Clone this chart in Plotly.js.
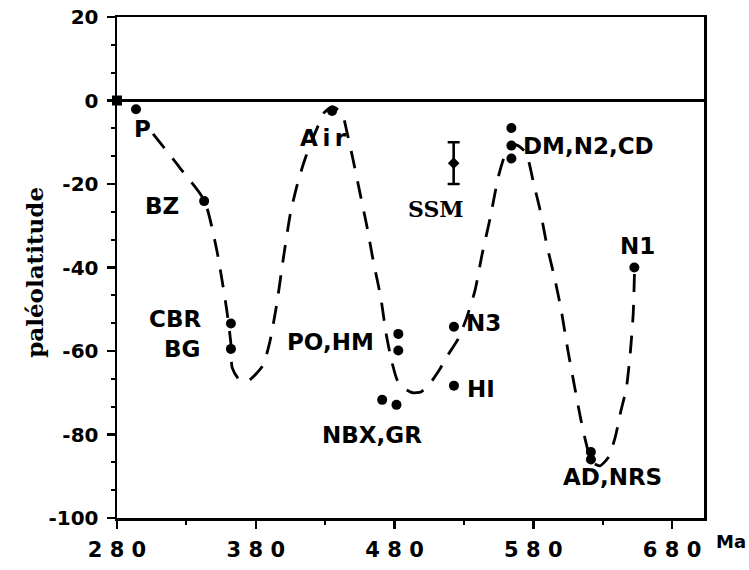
<!DOCTYPE html>
<html>
<head>
<meta charset="utf-8">
<script src="https://cdn.plot.ly/plotly-3.0.1.min.js"></script>
<style>html,body{margin:0;padding:0;background:#fff;}#chart{width:749px;height:570px;}</style>
</head>
<body>
<div id="chart"></div>
<script>
// Data points (Ma, paleolatitude)
const pointAges = [293.7, 342.8, 362.1, 362.1, 435, 564.2, 564.2, 564.2, 652.8, 482.7, 482.7, 522.8, 522.8, 471.1, 481.4, 621.5, 621.5];
const pointLats = [-2.1, -24.1, -53.4, -59.5, -2.5, -6.6, -10.8, -13.9, -40, -55.9, -59.9, -54.2, -68.3, -71.7, -72.9, -84.2, -86.0];

// Origin square
const originAge = [280];
const originLat = [0];

// SSM with error bar
const ssmAge = [522.6];
const ssmLat = [-15];
const ssmErr = [5];

// Dashed curve
const curveAges = [306,325,343,352,359,362,363,368,375,385,390,395,400,405,410,415,420,425,429,435,442,446,450,455,460,465,470,474,478,482,487,493,499,505,512,518,526,532,538,543,549,555,560,565,570,575,580,585,590,595,600,605,610,614,618,622,628,634,639,643,647,650,652,653];
const curveLats = [-8,-16,-24,-36,-50,-58,-64,-66.8,-67,-63.5,-58,-49,-37.5,-27,-20,-14.5,-10,-6,-3,-1.5,-3,-8,-14,-22,-30,-39,-47,-56,-62.5,-67,-69,-70,-69.8,-68,-64.7,-61.2,-57,-52,-45.5,-37,-28,-18,-12.7,-10.5,-11,-12.7,-19.5,-26.4,-35,-42,-50,-60,-69,-76,-82,-86.5,-87.5,-85.5,-80.7,-74.5,-69,-60,-51,-40];

// Point labels
const labelTexts = ["P","BZ","CBR","BG","A\u2009i\u2009r","DM,N2,CD","N1","PO,HM","N3","HI","NBX,GR","AD,NRS"];
const labelAges = [298.5, 312.5, 322, 326.5, 428.7, 620, 655, 433.5, 544.3, 542, 463.4, 636.7];
const labelLats = [-6.9, -25.3, -52.3, -59.4, -9.1, -11, -34.8, -57.8, -53.2, -69, -80.2, -90.2];

// Axis ticks
const xTickVals = [280, 380, 480, 580, 680];
const xTickText = ["2\u00a08\u00a00", "3\u00a08\u00a00", "4\u00a08\u00a00", "5\u00a08\u00a00", "6\u00a08\u00a00"];
const yTickVals = [20, 0, -20, -40, -60, -80, -100];
const yTickText = ["20", "0", "-20", "-40", "-60", "-80", "-100"];

const sans = "DejaVu Sans, Arial, sans-serif";
const serif = "DejaVu Serif, Times New Roman, serif";

const traces = [
  {
    x: curveAges, y: curveLats, mode: 'lines', type: 'scatter',
    line: {color: '#000', width: 2.8, dash: '18px,13px', shape: 'spline', smoothing: 0.6},
    hoverinfo: 'skip'
  },
  {
    x: pointAges, y: pointLats, mode: 'markers', type: 'scatter',
    marker: {color: '#000', size: 10, symbol: 'circle'}
  },
  {
    x: originAge, y: originLat, mode: 'markers', type: 'scatter',
    marker: {color: '#000', size: 10, symbol: 'square'}, cliponaxis: false
  },
  {
    x: ssmAge, y: ssmLat, mode: 'markers', type: 'scatter',
    marker: {color: '#000', size: 9, symbol: 'diamond'},
    error_y: {type: 'data', array: ssmErr, visible: true, color: '#000', thickness: 2.6, width: 6}
  }
];

const L = 117, R = 45, T = 17, B = 52, W = 749, H = 570;
const pw = W - L - R, ph = H - T - B;

const annotations = labelTexts.map((t, i) => ({
  x: labelAges[i], y: labelLats[i], xref: 'x', yref: 'y', text: t, showarrow: false,
  xanchor: 'center', yanchor: 'middle',
  font: {family: sans, size: 23, color: '#000', weight: 700}
}));
annotations.push({
  x: ssmAge[0] - 13, y: -26, xref: 'x', yref: 'y', text: 'SSM', showarrow: false,
  xanchor: 'center', yanchor: 'middle',
  font: {family: serif, size: 22, color: '#000', weight: 700}
});
annotations.push({
  x: -0.141, y: 0.49, xref: 'paper', yref: 'paper', text: 'paléolatitude', showarrow: false,
  textangle: -90, xanchor: 'center', yanchor: 'middle',
  font: {family: serif, size: 23, color: '#000', weight: 700}
});
annotations.push({
  x: (731 - L) / pw, y: (H - B - 541) / ph, xref: 'paper', yref: 'paper', text: 'Ma', showarrow: false,
  xanchor: 'center', yanchor: 'middle',
  font: {family: sans, size: 18, color: '#000', weight: 700}
});

const layout = {
  width: W, height: H,
  margin: {l: L, r: R, t: T, b: B, pad: 0},
  paper_bgcolor: '#fff', plot_bgcolor: '#fff',
  showlegend: false,
  xaxis: {
    range: [280, 703], showgrid: false, zeroline: false,
    showline: true, linecolor: '#000', linewidth: 2.5, mirror: true,
    tickmode: 'array', tickvals: xTickVals, ticktext: xTickText,
    ticks: 'outside', ticklen: 8, tickwidth: 2.5, tickcolor: '#000',
    minor: {dtick: 50, tick0: 280, ticks: 'outside', ticklen: 4, tickwidth: 2, tickcolor: '#000', showgrid: false},
    tickfont: {family: sans, size: 21, color: '#000', weight: 700},
    ticklabelstandoff: 3
  },
  yaxis: {
    range: [-100, 20], showgrid: false,
    zeroline: true, zerolinecolor: '#000', zerolinewidth: 2.5,
    showline: true, linecolor: '#000', linewidth: 2.5, mirror: true,
    tickmode: 'array', tickvals: yTickVals, ticktext: yTickText,
    ticks: 'outside', ticklen: 8, tickwidth: 2.5, tickcolor: '#000',
    minor: {dtick: 20 / 3, tick0: -100, ticks: 'outside', ticklen: 4, tickwidth: 2, tickcolor: '#000', showgrid: false},
    tickfont: {family: sans, size: 20, color: '#000', weight: 700},
    ticklabelstandoff: 4
  },
  annotations: annotations
};

Plotly.newPlot('chart', traces, layout, {staticPlot: true, displayModeBar: false});
</script>
</body>
</html>
